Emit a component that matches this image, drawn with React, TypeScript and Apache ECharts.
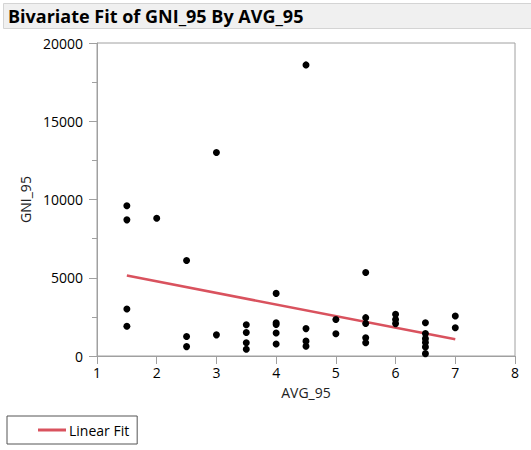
import React, { useEffect, useRef } from "react";
import * as echarts from "echarts";

const TITLE = "Bivariate Fit of GNI_95 By AVG_95";
const X_NAME = "AVG_95";
const Y_NAME = "GNI_95";
const FIT_NAME = "Linear Fit";

const avg95: number[] = [
  1.5, 1.5, 1.5, 1.5,
  2,
  2.5, 2.5, 2.5,
  3, 3,
  3.5, 3.5, 3.5, 3.5,
  4, 4, 4, 4, 4,
  4.5, 4.5, 4.5, 4.5,
  5, 5,
  5.5, 5.5, 5.5, 5.5, 5.5,
  6, 6, 6,
  6.5, 6.5, 6.5, 6.5, 6.5, 6.5,
  7, 7,
];
const gni95: number[] = [
  9600, 8700, 3000, 1900,
  8800,
  6100, 1250, 600,
  13000, 1350,
  2000, 1500, 850, 430,
  4000, 2130, 2020, 1470, 770,
  18600, 1750, 950, 620,
  2330, 1420,
  5330, 2450, 2080, 1170, 850,
  2660, 2330, 2070,
  2130, 1430, 1110, 860, 580, 150,
  2560, 1810,
];
const fitX: number[] = [1.5, 7];
const fitY: number[] = [5140, 1070];

const FONT = "'Open Sans', 'Noto Sans', sans-serif";

export default function App() {
  const ref = useRef<HTMLDivElement>(null);
  useEffect(() => {
    if (!ref.current) return;
    const chart = echarts.init(ref.current, null, { renderer: "svg" });
    const axisGray = "#a0a0a0";
    chart.setOption({
      animation: false,
      backgroundColor: "#ffffff",
      textStyle: { fontFamily: FONT },
      graphic: [
        {
          type: "rect",
          shape: { x: 3.5, y: 3.5, width: 530, height: 25 },
          style: { fill: "#f0f0f0", stroke: "#d4d4d4", lineWidth: 1 },
        },
        {
          type: "text",
          x: 8,
          y: 16,
          style: {
            text: TITLE,
            font: "bold 18px " + FONT,
            fill: "#000000",
            verticalAlign: "middle",
          },
        },
      ],
      legend: {
        show: true,
        left: 7,
        top: 416,
        orient: "horizontal",
        padding: [7, 8, 7, 31],
        borderColor: "#555555",
        borderWidth: 1,
        itemWidth: 28,
        itemHeight: 3,
        itemGap: 4,
        icon: "rect",
        textStyle: { fontSize: 14, color: "#000", fontFamily: FONT, padding: [0, 0, 0, -2] },
        data: [{ name: FIT_NAME, itemStyle: { color: "#d9525e" } }],
      },
      grid: {
        left: 97,
        top: 43,
        right: 16,
        bottom: 94,
        show: true,
        borderColor: axisGray,
        borderWidth: 1,
        backgroundColor: "transparent",
      },
      xAxis: {
        type: "value",
        min: 1,
        max: 8,
        interval: 1,
        name: X_NAME,
        nameLocation: "middle",
        nameGap: 29,
        nameTextStyle: { fontSize: 14, color: "#222", fontFamily: FONT },
        axisLine: { show: true, lineStyle: { color: axisGray } },
        axisTick: { show: true, length: 8, lineStyle: { color: axisGray } },
        axisLabel: { fontSize: 14, color: "#000", margin: 9, fontFamily: FONT },
        splitLine: { show: false },
      },
      yAxis: {
        type: "value",
        min: 0,
        max: 20000,
        interval: 5000,
        name: Y_NAME,
        nameLocation: "middle",
        nameGap: 65,
        nameTextStyle: { fontSize: 14, color: "#222", fontFamily: FONT },
        axisLine: { show: true, lineStyle: { color: axisGray } },
        axisTick: { show: true, length: 8, lineStyle: { color: axisGray } },
        minorTick: { show: true, splitNumber: 2, length: 5, lineStyle: { color: axisGray } },
        axisLabel: {
          fontSize: 14,
          color: "#000",
          margin: 14,
          fontFamily: FONT,
          formatter: (v: number) => String(v),
        },
        splitLine: { show: false },
      },
      series: [
        {
          type: "scatter",
          name: "points",
          data: avg95.map((x, i) => [x, gni95[i]]),
          symbol: "circle",
          symbolSize: 7,
          itemStyle: { color: "#000000", opacity: 1 },
          z: 3,
        },
        {
          type: "line",
          name: FIT_NAME,
          data: fitX.map((x, i) => [x, fitY[i]]),
          showSymbol: false,
          symbol: "none",
          lineStyle: { color: "#d9525e", width: 2.5 },
          itemStyle: { color: "#d9525e" },
          z: 2,
        },
      ],
    });
    return () => chart.dispose();
  }, []);
  return (
    <div
      ref={ref}
      style={{ position: "fixed", left: 0, top: 0, width: 531, height: 450 }}
    />
  );
}
